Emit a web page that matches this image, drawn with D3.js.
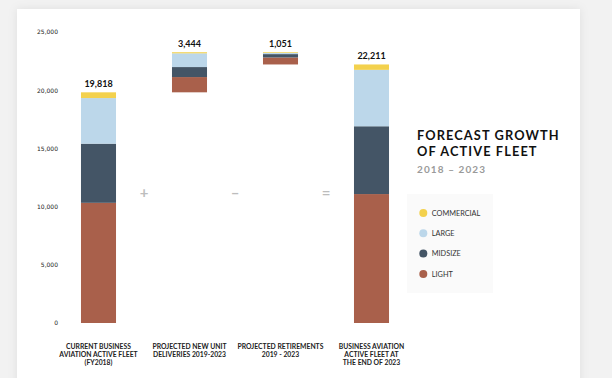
<!DOCTYPE html>
<html>
<head>
<meta charset="utf-8">
<script src="https://cdn.jsdelivr.net/npm/d3@7"></script>
<style>
  html, body { margin: 0; padding: 0; background: #f2f2f2; }
  svg { display: block; }
</style>
</head>
<body>
<svg id="chart" width="612" height="378"></svg>
<script>
// ---- data ----
const categories = [
  ["CURRENT BUSINESS", "AVIATION ACTIVE FLEET", "(FY2018)"],
  ["PROJECTED NEW UNIT", "DELIVERIES 2019-2023"],
  ["PROJECTED RETIREMENTS", "2019 - 2023"],
  ["BUSINESS AVIATION", "ACTIVE FLEET AT", "THE END OF 2023"]
];
const seriesNames = ["LIGHT", "MIDSIZE", "LARGE", "COMMERCIAL"];
const light      = [10325, 1310, 600, 11077];
const midsize    = [5080, 860, 290, 5825];
const large      = [3920, 1180, 100, 4846];
const commercial = [493, 94, 61, 463];
const totals     = [19818, 3444, 1051, 22211];
const operators  = ["+", "\u2013", "="];
const yTicks     = [0, 5000, 10000, 15000, 20000, 25000];
const legendOrder = ["COMMERCIAL", "LARGE", "MIDSIZE", "LIGHT"];
const colors = { LIGHT: "#a9604b", MIDSIZE: "#445566", LARGE: "#bcd7ea", COMMERCIAL: "#f3d14d" };

const seriesValues = { LIGHT: light, MIDSIZE: midsize, LARGE: large, COMMERCIAL: commercial };

// waterfall bases: start, add, subtract, result
const bases = [0, totals[0], totals[0] + totals[1] - totals[2], 0];

const svg = d3.select("#chart");

// card
const defs = svg.append("defs");
const f = defs.append("filter").attr("id", "sh").attr("x", "-10%").attr("y", "-10%").attr("width", "120%").attr("height", "120%");
f.append("feDropShadow").attr("dx", 0).attr("dy", 0).attr("stdDeviation", 5).attr("flood-color", "#000").attr("flood-opacity", 0.08);
svg.append("rect").attr("x", 17).attr("y", 9).attr("width", 563).attr("height", 400)
  .attr("fill", "#fff").attr("filter", "url(#sh)");

const y = d3.scaleLinear().domain([0, 25000]).range([323, 32]);
const x = d3.scaleBand().domain(d3.range(categories.length)).range([53, 417]).paddingInner(0.615).paddingOuter(0.3075);

// y axis
const yAxis = d3.axisLeft(y).tickValues(yTicks).tickSize(0).tickPadding(0).tickFormat(d3.format(","));
const ga = svg.append("g").attr("transform", "translate(58,0)").call(yAxis);
ga.select(".domain").remove();
ga.selectAll("text").attr("font-family", "DejaVu Sans").attr("font-size", 6).attr("fill", "#222");

// stacked bars
const stackData = categories.map((c, i) => {
  const o = { i };
  seriesNames.forEach(s => o[s] = seriesValues[s][i]);
  return o;
});
const stack = d3.stack().keys(seriesNames)(stackData);
const gBars = svg.append("g");
stack.forEach(layer => {
  gBars.selectAll(null).data(layer).join("rect")
    .attr("x", d => x(d.data.i))
    .attr("width", x.bandwidth())
    .attr("y", d => y(bases[d.data.i] + d[1]))
    .attr("height", d => y(bases[d.data.i] + d[0]) - y(bases[d.data.i] + d[1]))
    .attr("fill", colors[layer.key]);
});

// value labels
svg.append("g").selectAll("text").data(totals).join("text")
  .attr("x", (d, i) => x(i) + x.bandwidth() / 2)
  .attr("y", (d, i) => y(bases[i] + d) - 5)
  .attr("text-anchor", "middle")
  .attr("font-family", "Lato").attr("font-weight", 700).attr("font-size", 9)
  .attr("fill", "#111")
  .text(d => d3.format(",")(d));

// operators
svg.append("g").selectAll("text").data(operators).join("text")
  .attr("x", (d, i) => (x(i) + x.bandwidth() + x(i + 1)) / 2)
  .attr("y", 198)
  .attr("text-anchor", "middle")
  .attr("font-family", "Lato").attr("font-weight", 700).attr("font-size", 15)
  .attr("fill", "#bdbdbd")
  .text(d => d);

// category labels
const gx = svg.append("g");
categories.forEach((lines, i) => {
  const t = gx.append("text")
    .attr("x", x(i) + x.bandwidth() / 2)
    .attr("y", 348.5)
    .attr("text-anchor", "middle")
    .attr("font-family", "Lato").attr("font-weight", 700).attr("font-size", 6.8)
    .attr("fill", "#222");
  lines.forEach((l, j) => t.append("tspan").attr("x", x(i) + x.bandwidth() / 2).attr("dy", j === 0 ? 0 : 8.3).text(l));
});

// title
const tg = svg.append("g").attr("font-family", "Lato");
tg.append("text").attr("x", 417).attr("y", 140).attr("font-size", 12.8).attr("font-weight", 700)
  .attr("letter-spacing", 1.1).attr("fill", "#111").text("FORECAST GROWTH");
tg.append("text").attr("x", 417).attr("y", 156).attr("font-size", 12.8).attr("font-weight", 700)
  .attr("letter-spacing", 1.1).attr("fill", "#111").text("OF ACTIVE FLEET");
tg.append("text").attr("x", 417).attr("y", 172.5).attr("font-size", 10).attr("font-weight", 700)
  .attr("letter-spacing", 1.1).attr("fill", "#9a9a9a").text("2018 \u2013 2023");

// legend
svg.append("rect").attr("x", 407).attr("y", 194).attr("width", 86).attr("height", 99).attr("fill", "#fafafa");
const lg = svg.append("g").selectAll("g").data(legendOrder).join("g")
  .attr("transform", (d, i) => `translate(423.3,${213 + i * 20.3})`);
lg.append("circle").attr("r", 4).attr("fill", d => colors[d]);
lg.append("text").attr("x", 8.5).attr("y", 2.6).attr("font-family", "Lato").attr("font-size", 7.3)
  .attr("fill", "#333").text(d => d);
</script>
</body>
</html>
